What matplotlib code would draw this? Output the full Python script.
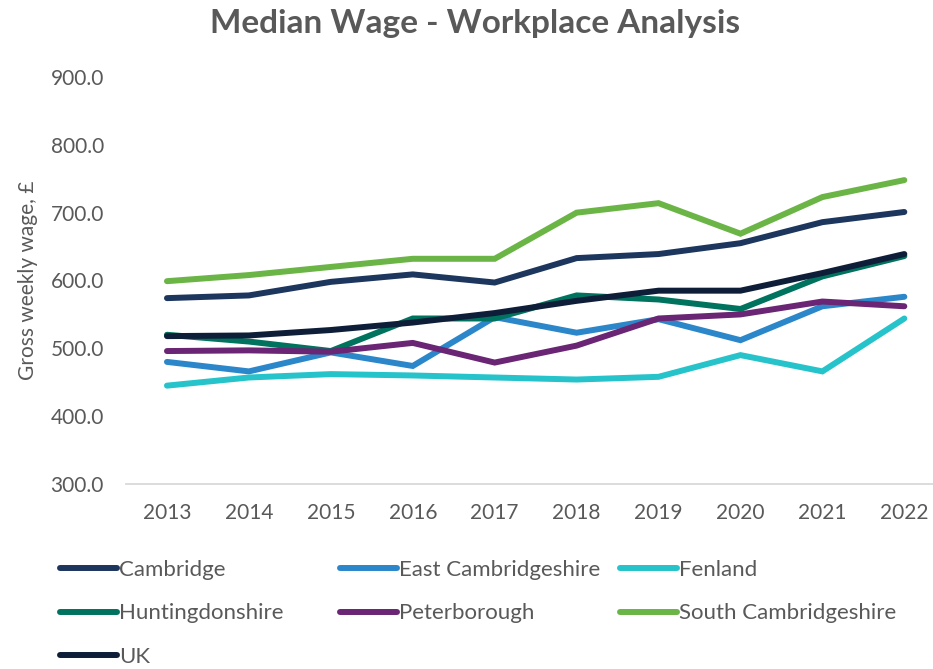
import numpy as np
import matplotlib
matplotlib.use("Agg")
import matplotlib.pyplot as plt
from matplotlib.lines import Line2D

plt.rcParams['font.family'] = ['Lato', 'DejaVu Sans']

years = ['2013', '2014', '2015', '2016', '2017', '2018', '2019', '2020', '2021', '2022']

cambridge = [574, 578, 598, 609, 597, 633, 639, 655, 686, 701]
east_cambs = [480, 466, 494, 474, 546, 523, 543, 512, 562, 576]
fenland = [445, 457, 462, 460, 457, 454, 458, 490, 466, 544]
hunts = [520, 510, 496, 544, 544, 578, 572, 558, 606, 636]
peterborough = [496, 497, 495, 508, 479, 504, 544, 550, 569, 562]
south_cambs = [599, 608, 620, 632, 632, 700, 714, 669, 723, 748]
uk = [518, 519, 527, 538, 552, 570, 585, 585, 611, 639]

series = [
    ('Cambridge', cambridge, '#1C365E'),
    ('East Cambridgeshire', east_cambs, '#2B87C9'),
    ('Fenland', fenland, '#27C3CB'),
    ('Huntingdonshire', hunts, '#00735E'),
    ('Peterborough', peterborough, '#6A2574'),
    ('South Cambridgeshire', south_cambs, '#6AB545'),
    ('UK', uk, '#0F1E38'),
]

txt = '#595959'

fig = plt.figure(figsize=(9.33, 6.69), dpi=100)
ax = fig.add_axes([126/933, 1 - 484/669, 1 - 126/933, (484 - 77)/669])

x = np.arange(len(years))
handles = {}
for name, vals, col in series:
    ln, = ax.plot(x, vals, color=col, lw=4.3, solid_capstyle='round',
                  solid_joinstyle='miter', label=name)
    handles[name] = ln

ax.set_xlim(-0.5, 9.35)
ax.set_ylim(300, 900)
ax.set_yticks(np.arange(300, 901, 100))
ax.set_yticklabels([f'{v:.1f}' for v in np.arange(300, 901, 100)])
ax.set_xticks(x)
ax.set_xticklabels(years)

for s in ['top', 'right', 'left']:
    ax.spines[s].set_visible(False)
ax.spines['bottom'].set_color('#D9D9D9')
ax.spines['bottom'].set_linewidth(1.3)
ax.tick_params(axis='both', length=0, labelsize=15, colors=txt)
ax.tick_params(axis='y', pad=16)
ax.tick_params(axis='x', pad=14)

fig.text(28/933, 1 - 280/669, 'Gross weekly wage, £', rotation=90,
         ha='center', va='center', fontsize=15, color=txt)
fig.text(475/933, 1 - 23/669, 'Median Wage - Workplace Analysis',
         ha='center', va='center', fontsize=24, fontweight='bold', color=txt)

cols = [
    (60, ['Cambridge', 'Huntingdonshire', 'UK']),
    (340, ['East Cambridgeshire', 'Peterborough']),
    (620, ['Fenland', 'South Cambridgeshire']),
]
for xpx, names in cols:
    hs = [Line2D([], [], color=handles[n].get_color(), lw=4.3, solid_capstyle='round') for n in names]
    leg = fig.legend(hs, names, loc='upper left', bbox_to_anchor=(xpx/933, 1 - 560/669),
                     frameon=False, fontsize=16, handlelength=2.55, handletextpad=0.12,
                     labelspacing=1.05, borderpad=0, borderaxespad=0)
    for t in leg.get_texts():
        t.set_color(txt)

fig.savefig('out.png', dpi=100)
